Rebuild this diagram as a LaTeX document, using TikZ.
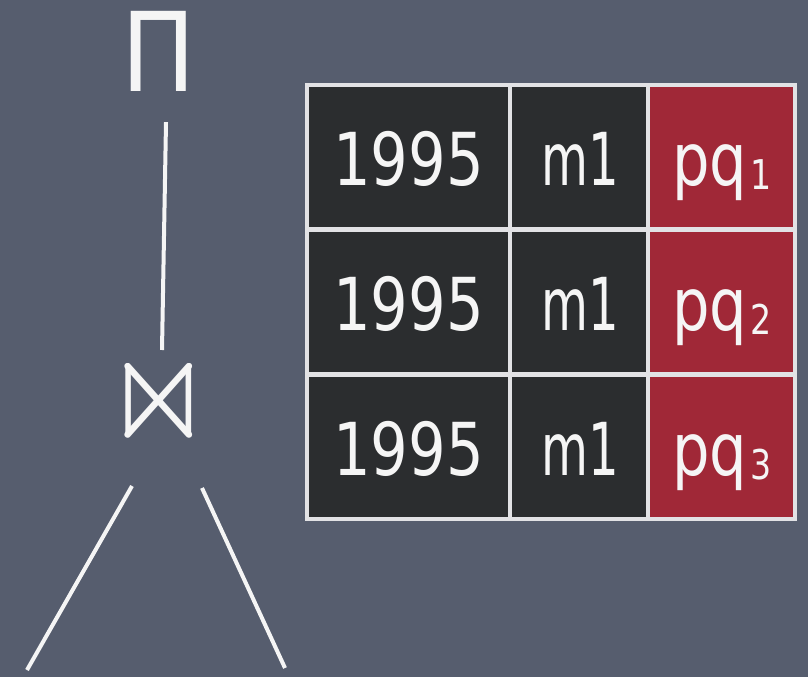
\documentclass[tikz,border=0pt]{standalone}
\usepackage{amssymb}
\usepackage{fontspec}
\setmainfont{DejaVu Sans}
\definecolor{bg}{RGB}{86,93,110}
\definecolor{celldark}{RGB}{43,45,47}
\definecolor{cellred}{RGB}{160,40,55}
\definecolor{gridline}{RGB}{226,226,229}
\definecolor{chalk}{RGB}{245,245,245}
\tikzset{
  cellbox/.style={draw=gridline, line width=4pt, inner sep=0pt, outer sep=0pt},
  celltext/.style={text=chalk, inner sep=0pt, anchor=base, font=\fontsize{73}{80}\selectfont},
  optext/.style={text=chalk, inner sep=0pt},
  wline/.style={draw=chalk, line width=4pt}
}
\newcommand{\narrow}[1]{\scalebox{0.81}[1]{#1}}
\newcommand{\narrowm}[1]{\scalebox{0.66}[1]{#1}}
\newcommand{\pqsub}[1]{\hspace{3pt}\raisebox{-4pt}{\fontsize{41}{44}\selectfont\scalebox{0.81}[1]{#1}}}
\begin{document}
\begin{tikzpicture}[x=1pt,y=-1pt]
\fill[bg] (0,0) rectangle (808,677);
\useasboundingbox (0,0) rectangle (808,677);

% operator tree
\node[optext, anchor=base, font=\fontsize{110}{112}\selectfont] (pi) at (159,92) {\scalebox{0.9}[1]{Π}};
\node[optext, anchor=center] (join) at (159,401) {\resizebox{109pt}{90pt}{$\Join$}};
\coordinate (ll) at (27,670);
\coordinate (rr) at (285,668);
\draw[wline] ([shift={(7,30)}]pi.south) -- ([shift={(3,-51)}]join.center);
\draw[wline] ([shift={(-27,85)}]join.center) -- (ll);
\draw[wline] ([shift={(43,87)}]join.center) -- (rr);

% table cells
\foreach \r/\y in {1/157, 2/301.5, 3/446.5}{
  \node[cellbox, fill=celldark, minimum width=203pt, minimum height=144pt] (a\r) at (408.5,\y) {};
  \node[cellbox, fill=celldark, minimum width=138pt, minimum height=144pt] (b\r) at (579,\y) {};
  \node[cellbox, fill=cellred, minimum width=147pt, minimum height=144pt] (c\r) at (721.5,\y) {};
}
% texts
\node[celltext] (ta1) at (408.5,185) {\narrow{1995}};
\node[celltext] (tb1) at (580,185) {\narrowm{m1}};
\node[celltext] (tc1) at (722,185) {\narrow{pq}\pqsub{1}};
\node[celltext] (ta2) at (408.5,330) {\narrow{1995}};
\node[celltext] (tb2) at (580,330) {\narrowm{m1}};
\node[celltext] (tc2) at (722,330) {\narrow{pq}\pqsub{2}};
\node[celltext] (ta3) at (408.5,475) {\narrow{1995}};
\node[celltext] (tb3) at (580,475) {\narrowm{m1}};
\node[celltext] (tc3) at (722,475) {\narrow{pq}\pqsub{3}};
\end{tikzpicture}
\end{document}
